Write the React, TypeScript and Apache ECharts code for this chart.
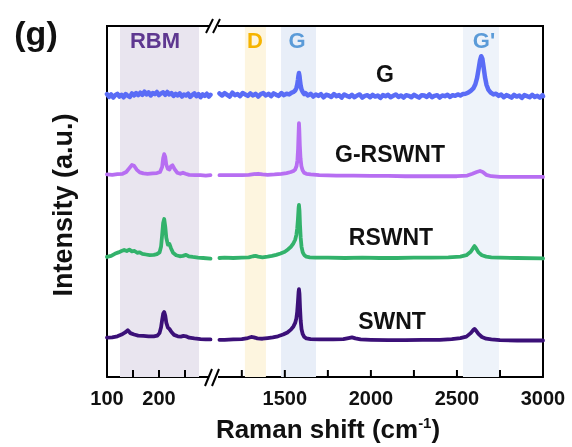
import React, { useEffect, useRef } from "react";
import * as echarts from "echarts";

// Raman shift (cm-1) / intensity above each spectrum's baseline (a.u.)
const SPECTRUM_NAMES = ["G", "G-RSWNT", "RSWNT", "SWNT"];
const BASELINES = [80.0, 57.5, 33.9, 10.5];
const LINE_COLORS = ["#5a6cf6", "#b76ef2", "#32b26b", "#3b1078"];
const LINE_WIDTHS = [4.5, 3.8, 3.8, 3.8];

const G_LEFT: [number, number][] = [
  [100, 0.6], [104, -0.2], [108, 0.5], [112, -0.4], [116, 0.3], [120, 0.7], [124, -0.1], [128, 0.4],
  [132, -0.3], [136, 0.6], [140, 0.1], [144, -0.2], [148, 0.8], [152, 0.2], [156, 0.9], [160, 0.3],
  [164, 1.0], [168, 0.4], [172, 1.3], [176, 0.5], [180, 1.1], [184, 0.2], [188, 0.9], [192, 0.6],
  [196, 1.2], [200, 0.3], [204, 0.8], [208, 1.1], [212, 0.4], [216, 1.2], [220, 0.5], [224, 0.9],
  [228, 0.1], [232, 0.7], [236, 0.2], [240, 0.8], [244, -0.1], [248, 0.5], [252, 0.2], [256, 0.7],
  [260, -0.2], [264, 0.4], [268, 0.8], [272, 0.0], [276, 0.6], [280, -0.3], [284, 0.5], [288, 0.1],
  [292, 0.7], [296, -0.1], [299, 0.4],
];
const G_RIGHT: [number, number][] = [
  [1120, 0.8], [1135, 0.2], [1150, 0.9], [1165, 0.4], [1180, -0.1], [1195, 1.0], [1210, 0.3], [1225, 0.6],
  [1240, 0.0], [1255, 0.9], [1270, 0.5], [1285, 0.1], [1300, 0.8], [1315, 0.2], [1330, 0.7], [1345, -0.1],
  [1360, 0.6], [1375, 0.9], [1390, 0.2], [1405, 0.7], [1420, 0.0], [1435, 0.8], [1450, 0.4], [1465, 0.1],
  [1480, 0.9], [1495, 0.3], [1510, 0.7], [1525, 0.5], [1540, 1.0], [1550, 1.2], [1560, 1.6], [1567, 2.3],
  [1572, 3.3], [1576, 4.6], [1579, 5.8], [1582, 6.6], [1585, 5.8], [1588, 4.5], [1592, 3.0], [1597, 1.9],
  [1604, 1.2], [1612, 0.6], [1620, 0.9], [1635, 0.2], [1650, 0.7], [1665, -0.1], [1680, 0.5], [1695, 0.1],
  [1710, 0.6], [1725, -0.3], [1740, 0.4], [1755, 0.2], [1770, -0.2], [1785, 0.6], [1800, 0.0], [1815, 0.3],
  [1830, -0.4], [1845, 0.5], [1860, 0.1], [1875, -0.2], [1890, 0.4], [1905, -0.3], [1920, 0.2], [1935, 0.5],
  [1950, -0.4], [1965, 0.1], [1980, 0.3], [1995, -0.3], [2010, 0.4], [2025, -0.1], [2040, 0.2], [2055, -0.5],
  [2070, 0.3], [2085, 0.0], [2100, 0.4], [2115, -0.3], [2130, 0.1], [2145, 0.5], [2160, -0.2], [2175, 0.2],
  [2190, -0.4], [2205, 0.3], [2220, 0.1], [2235, -0.3], [2250, 0.4], [2265, 0.0], [2280, -0.4], [2295, 0.3],
  [2310, 0.2], [2325, -0.2], [2340, 0.5], [2355, -0.3], [2370, 0.1], [2385, 0.3], [2400, -0.4], [2415, 0.2],
  [2430, 0.0], [2445, 0.4], [2460, -0.2], [2475, 0.3], [2490, 0.1], [2505, 0.5], [2520, 0.2], [2535, 0.6],
  [2550, 0.7], [2565, 1.0], [2580, 1.5], [2595, 2.2], [2607, 3.4], [2617, 5.2], [2626, 7.8], [2634, 10.2],
  [2641, 11.4], [2648, 10.6], [2655, 8.2], [2663, 5.4], [2672, 3.2], [2683, 1.8], [2697, 1.0], [2712, 0.5],
  [2727, 0.7], [2742, 0.1], [2757, 0.5], [2772, -0.3], [2787, 0.3], [2802, 0.0], [2817, -0.4], [2832, 0.4],
  [2847, -0.1], [2862, 0.2], [2877, -0.5], [2892, 0.3], [2907, 0.0], [2922, -0.3], [2937, 0.4], [2952, -0.2],
  [2967, 0.1], [2982, -0.4], [2997, 0.3], [3000, 0.0],
];

const GR_LEFT: [number, number][] = [
  [100, 0.2], [110, 0.1], [120, 0.3], [130, 0.4], [137, 0.9], [143, 2.0], [148, 2.9], [152, 2.7],
  [157, 1.6], [163, 0.8], [170, 0.5], [178, 0.4], [188, 0.5], [196, 0.6], [202, 0.9], [206, 2.3],
  [208, 4.8], [210, 6.0], [212, 5.2], [214, 3.0], [217, 1.8], [220, 1.6], [223, 2.5], [226, 2.8],
  [230, 1.7], [235, 0.7], [241, 0.4], [246, 0.7], [251, 0.4], [258, 0.1], [270, 0.0], [280, 0.0],
  [290, -0.1], [299, 0.0],
];
const GR_RIGHT: [number, number][] = [
  [1120, 0.0], [1160, 0.0], [1200, 0.0], [1250, 0.0], [1290, 0.1], [1320, 0.3], [1345, 0.4], [1370, 0.2],
  [1400, 0.1], [1440, 0.2], [1480, 0.4], [1510, 0.6], [1535, 0.9], [1550, 1.2], [1560, 1.6], [1568, 2.6],
  [1573, 4.2], [1577, 7.5], [1580, 12.0], [1582, 14.8], [1584, 13.0], [1587, 8.5], [1591, 4.8], [1596, 2.6],
  [1603, 1.4], [1612, 0.7], [1625, 0.4], [1650, 0.2], [1700, 0.0], [1800, -0.1], [1900, -0.1], [2000, -0.2],
  [2100, -0.2], [2200, -0.3], [2300, -0.3], [2400, -0.3], [2500, -0.3], [2560, -0.1], [2590, 0.4], [2615, 0.9],
  [2634, 1.2], [2650, 0.9], [2670, 0.1], [2700, -0.3], [2750, -0.5], [2850, -0.5], [3000, -0.5],
];

const RS_LEFT: [number, number][] = [
  [100, 0.3], [108, 0.6], [115, 1.2], [122, 1.6], [128, 2.0], [133, 2.3], [138, 2.0], [143, 2.4],
  [148, 1.9], [153, 2.0], [158, 1.5], [163, 1.6], [168, 1.2], [175, 1.0], [182, 0.8], [190, 0.9],
  [196, 1.1], [201, 1.6], [204, 3.3], [206, 6.5], [208, 10.0], [210, 11.1], [212, 9.0], [214, 5.8],
  [217, 3.8], [220, 4.0], [223, 2.8], [227, 1.5], [233, 0.8], [240, 0.5], [246, 0.6], [252, 0.9],
  [257, 0.5], [265, 0.3], [275, 0.1], [285, 0.0], [299, -0.2],
];
const RS_RIGHT: [number, number][] = [
  [1120, 0.0], [1150, 0.1], [1200, 0.0], [1250, 0.1], [1290, 0.2], [1315, 0.5], [1330, 0.6], [1345, 0.4],
  [1370, 0.2], [1400, 0.4], [1425, 0.6], [1450, 0.9], [1475, 1.3], [1500, 1.8], [1520, 2.5], [1535, 3.2],
  [1550, 4.2], [1560, 5.2], [1567, 6.6], [1572, 8.5], [1576, 11.0], [1580, 14.3], [1582, 15.1], [1585, 13.5],
  [1588, 9.5], [1592, 5.8], [1597, 3.2], [1604, 1.6], [1613, 0.8], [1625, 0.4], [1645, 0.2], [1680, 0.1],
  [1750, 0.1], [1850, 0.0], [1950, 0.1], [2050, 0.0], [2150, 0.0], [2250, 0.1], [2350, 0.1], [2450, 0.2],
  [2520, 0.4], [2555, 0.8], [2580, 1.8], [2595, 2.9], [2602, 3.4], [2610, 2.9], [2625, 1.6], [2645, 0.8],
  [2670, 0.4], [2700, 0.2], [2750, 0.1], [2850, 0.0], [3000, -0.1],
];

const SW_LEFT: [number, number][] = [
  [100, 0.7], [110, 0.8], [120, 1.1], [128, 1.6], [135, 2.2], [140, 2.8], [145, 2.0], [152, 1.6],
  [160, 1.3], [170, 1.2], [180, 1.1], [190, 1.1], [197, 1.3], [201, 2.0], [204, 3.7], [206, 5.7],
  [208, 7.5], [210, 8.0], [212, 7.0], [214, 5.0], [217, 3.6], [220, 3.2], [224, 2.3], [229, 1.5],
  [236, 1.1], [242, 1.0], [247, 1.2], [252, 1.1], [258, 0.7], [268, 0.5], [280, 0.3], [290, 0.2], [299, 0.2],
];
const SW_RIGHT: [number, number][] = [
  [1120, 0.1], [1150, 0.1], [1200, 0.2], [1250, 0.3], [1285, 0.6], [1305, 0.9], [1320, 0.8], [1340, 0.5],
  [1370, 0.4], [1400, 0.6], [1430, 0.8], [1460, 1.1], [1490, 1.6], [1515, 2.2], [1535, 3.0], [1550, 3.9],
  [1560, 4.9], [1567, 6.2], [1572, 8.2], [1576, 10.8], [1580, 13.8], [1582, 14.5], [1585, 13.2], [1588, 9.4],
  [1592, 5.6], [1597, 3.1], [1604, 1.7], [1613, 0.9], [1625, 0.5], [1650, 0.3], [1700, 0.2], [1780, 0.2],
  [1840, 0.3], [1870, 0.6], [1890, 0.8], [1910, 0.5], [1940, 0.2], [2000, 0.1], [2100, 0.0], [2200, 0.0],
  [2300, 0.1], [2400, 0.1], [2470, 0.3], [2520, 0.6], [2555, 1.0], [2580, 2.0], [2595, 2.9], [2602, 3.2],
  [2610, 2.8], [2625, 1.8], [2645, 0.9], [2670, 0.4], [2700, 0.2], [2750, 0.0], [2850, -0.1], [3000, -0.1],
];

const LEFT_DATA = [G_LEFT, GR_LEFT, RS_LEFT, SW_LEFT];
const RIGHT_DATA = [G_RIGHT, GR_RIGHT, RS_RIGHT, SW_RIGHT];

// shaded bands [from, to] in cm-1
const BAND_NAMES = ["RBM", "D", "G", "G'"];
const BAND_RANGES: [number, number][] = [[125, 277], [1268, 1390], [1478, 1681], [2535, 2744]];
const BAND_FILLS = ["#e9e5ef", "#fdf5df", "#e8eef8", "#eef3fa"];
const BAND_LABEL_COLORS = ["#5e3790", "#f6b400", "#5b9bd8", "#5b9bd8"];

const LEFT_TICKS = [150, 200, 250];
const LEFT_LABELS = [100, 200];
const RIGHT_TICKS = [1250, 1500, 1750, 2000, 2250, 2500, 2750];
const RIGHT_LABELS = [1500, 2000, 2500, 3000];

const FONT = "Liberation Sans, Arial, sans-serif";

export default function App() {
  const ref = useRef<HTMLDivElement>(null);
  useEffect(() => {
    if (!ref.current) return;
    const chart = echarts.init(ref.current, undefined, { renderer: "svg" });
    const offsetData = (d: [number, number][], off: number) => d.map(([x, y]) => [x, y + off]);

    const tickSeries = (axisIndex: number, ticks: number[]) => ({
      type: "custom", xAxisIndex: axisIndex, yAxisIndex: axisIndex, silent: true, z: 6,
      data: ticks.map((v) => [v]),
      renderItem: (_p: any, api: any) => {
        const p = api.coord([api.value(0), 0]);
        return { type: "line", shape: { x1: p[0], y1: p[1], x2: p[0], y2: p[1] - 7 },
          style: { stroke: "#000", lineWidth: 2 } };
      },
    });

    const series: any[] = [];
    series.push({
      type: "line", xAxisIndex: 0, yAxisIndex: 0, data: [], z: 1, silent: true,
      markArea: { silent: true, itemStyle: { color: BAND_FILLS[0], opacity: 1 },
        data: [[{ xAxis: BAND_RANGES[0][0] }, { xAxis: BAND_RANGES[0][1] }]] },
    });
    series.push({
      type: "line", xAxisIndex: 1, yAxisIndex: 1, data: [], z: 1, silent: true,
      markArea: { silent: true,
        data: [1, 2, 3].map((i) => [
          { xAxis: BAND_RANGES[i][0], itemStyle: { color: BAND_FILLS[i], opacity: 1 } },
          { xAxis: BAND_RANGES[i][1] },
        ]) },
    });
    SPECTRUM_NAMES.forEach((name, i) => {
      const common = {
        type: "line", name, showSymbol: false, z: 3, silent: true,
        lineStyle: { color: LINE_COLORS[i], width: LINE_WIDTHS[i], join: "round", cap: "round" },
      };
      series.push({ ...common, xAxisIndex: 0, yAxisIndex: 0, data: offsetData(LEFT_DATA[i], BASELINES[i]) });
      series.push({ ...common, xAxisIndex: 1, yAxisIndex: 1, data: offsetData(RIGHT_DATA[i], BASELINES[i]) });
    });
    series.push(tickSeries(0, LEFT_TICKS));
    series.push(tickSeries(1, RIGHT_TICKS));

    const axisLine = { show: true, onZero: false, lineStyle: { color: "#000", width: 2 } };
    const labelStyle = { color: "#111", fontSize: 20, fontWeight: "bold", fontFamily: FONT, margin: 11,
      formatter: (v: number) => String(v) };

    const bold = (size: number) => `bold ${size}px ${FONT}`;
    const txt = (text: string, x: number, y: number, size: number, fill: string) => ({
      type: "text", x, y, z: 10,
      style: { text, x: 0, y: 0, font: bold(size), fill, align: "center", verticalAlign: "middle",
        textAlign: "center", textVerticalAlign: "middle" },
    });
    const seg = (x1: number, y1: number, x2: number, y2: number) => ({
      type: "line", z: 10, shape: { x1, y1, x2, y2 }, style: { stroke: "#000", lineWidth: 2 },
    });
    const white = (x: number, y: number, w: number, h: number) => ({
      type: "rect", z: 9, shape: { x, y, width: w, height: h }, style: { fill: "#fff" },
    });

    const bandLabelX = [155, 255, 297, 484];
    const specLabelPos = [[385, 74], [390, 154], [391, 237], [392, 321]];

    chart.setOption({
      animation: false,
      grid: [
        { left: 107, top: 26, width: 104, height: 351 },
        { left: 216, top: 26, width: 327, height: 351 },
      ],
      xAxis: [
        {
          type: "value", gridIndex: 0, min: 100, max: 300, interval: 50,
          axisLine, splitLine: { show: false }, axisTick: { show: false },
          axisLabel: { ...labelStyle, customValues: LEFT_LABELS },
        },
        {
          type: "value", gridIndex: 1, min: 1100, max: 3000,
          axisLine, splitLine: { show: false }, axisTick: { show: false },
          axisLabel: { ...labelStyle, customValues: RIGHT_LABELS },
        },
      ],
      yAxis: [
        { type: "value", gridIndex: 0, min: 0, max: 100, axisLine, axisTick: { show: false },
          axisLabel: { show: false }, splitLine: { show: false } },
        { type: "value", gridIndex: 1, min: 0, max: 100, position: "right", axisLine, axisTick: { show: false },
          axisLabel: { show: false }, splitLine: { show: false } },
      ],
      series,
      graphic: [
        seg(106, 26, 210, 26),
        seg(218, 26, 544, 26),
        white(209, 370, 9, 14),
        seg(205, 386, 212, 369),
        seg(212, 386, 219, 369),
        seg(206, 33, 213, 19),
        seg(213, 33, 220, 19),
        txt("(g)", 36, 33, 34, "#111"),
        ...BAND_NAMES.map((b, i) => txt(b, bandLabelX[i], 40, 22, BAND_LABEL_COLORS[i])),
        ...SPECTRUM_NAMES.map((s, i) => txt(s, specLabelPos[i][0], specLabelPos[i][1], 23, "#111")),
        {
          type: "text", x: 63, y: 205, rotation: Math.PI / 2, z: 10,
          style: { text: "Intensity (a.u.)", x: 0, y: 0, font: bold(27), fill: "#111",
            align: "center", verticalAlign: "middle", textAlign: "center", textVerticalAlign: "middle" },
        },
        {
          type: "text", x: 328, y: 429, z: 10,
          style: {
            text: "Raman shift (cm{sup|-1})", x: 0, y: 0, font: bold(26), fill: "#111",
            align: "center", verticalAlign: "middle", textAlign: "center", textVerticalAlign: "middle",
            rich: { sup: { fontSize: 15, fontWeight: "bold", fontFamily: FONT, fill: "#111", color: "#111", padding: [0, 0, 13, 0] } },
          },
        },
      ],
    });
    return () => chart.dispose();
  }, []);
  return <div ref={ref} style={{ position: "fixed", left: 0, top: 0, width: 572, height: 447 }} />;
}
